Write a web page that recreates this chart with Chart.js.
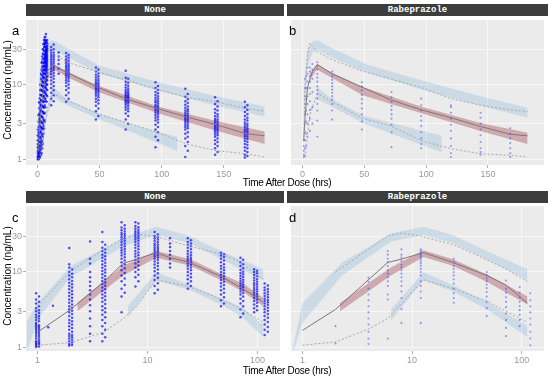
<!DOCTYPE html>
<html>
<head>
<meta charset="utf-8">
<script src="https://cdn.jsdelivr.net/npm/chart.js@4/dist/chart.umd.min.js"></script>
<style>
  html, body { margin:0; padding:0; background:#fff; }
  #wrap { position:relative; width:550px; height:379px; overflow:hidden; font-family:"Liberation Sans", Arial, sans-serif; }
  canvas { position:absolute; }
  .strip { position:absolute; height:12px; background:#3d3d3d; color:#fff; font-family:"Liberation Mono", monospace; font-weight:bold; font-size:9px; line-height:12px; text-align:center; }
  .letter { position:absolute; font-size:13px; color:#000; line-height:13px; z-index:5; }
  .xtitle { position:absolute; left:287px; transform:translateX(-50%); font-size:10px; letter-spacing:-0.3px; color:#000; white-space:nowrap; line-height:10px; z-index:5; }
  .ytitle { position:absolute; left:8px; transform:translate(-50%,-50%) rotate(-90deg); font-size:10px; color:#000; white-space:nowrap; line-height:10px; z-index:5; }
</style>
</head>
<body>
<div id="wrap">
  <div class="strip" id="s0" style="left:26px;top:4px;width:258px;"></div>
  <div class="strip" id="s1" style="left:287px;top:4px;width:261px;"></div>
  <div class="strip" id="s2" style="left:26px;top:191px;width:258px;"></div>
  <div class="strip" id="s3" style="left:287px;top:191px;width:261px;"></div>
  <canvas id="cA" width="284" height="167" style="left:0;top:16px;width:284px;height:167px;"></canvas>
  <canvas id="cB" width="261" height="167" style="left:287px;top:16px;width:261px;height:167px;"></canvas>
  <canvas id="cC" width="284" height="167" style="left:0;top:202px;width:284px;height:167px;"></canvas>
  <canvas id="cD" width="261" height="167" style="left:287px;top:202px;width:261px;height:167px;"></canvas>
  <div class="letter" id="lA" style="left:12px;top:24px;"></div>
  <div class="letter" id="lB" style="left:289px;top:24px;"></div>
  <div class="letter" id="lC" style="left:12px;top:211px;"></div>
  <div class="letter" id="lD" style="left:289px;top:211px;"></div>
  <div class="xtitle" id="xt1" style="top:178px;"></div>
  <div class="xtitle" id="xt2" style="top:366px;"></div>
  <div class="ytitle" id="yt1" style="top:90px;"></div>
  <div class="ytitle" id="yt2" style="top:276px;"></div>
</div>
<script>
// ---------- text ----------
const stripTitles = ['None', 'Rabeprazole', 'None', 'Rabeprazole'];
const panelLetters = ['a', 'b', 'c', 'd'];
const xAxisTitle = 'Time After Dose (hrs)';
const yAxisTitle = 'Concentration (ng/mL)';

// ---------- ticks ----------
const yTicks = [1, 3, 10, 30];
const xTicksLinear = [0, 50, 100, 150];
const xTicksLog = [1, 10, 100];

// ---------- panel a (linear time) ----------
const obsA = [
 [0.25,[1.0,1.05,1.1,1.2,1.3,1.45,1.6,1.8,2.1,2.5]],
 [0.75,[1.0,1.08,1.15,1.25,1.4,1.55,1.75,2.0,2.3,2.7,3.2,3.9]],
 [1.25,[1.02,1.1,1.2,1.35,1.5,1.7,1.9,2.2,2.5,2.9,3.4,4.0,4.8,5.8]],
 [1.75,[1.05,1.15,1.3,1.5,1.7,2.0,2.3,2.7,3.1,3.6,4.2,4.9,5.7,6.6]],
 [2.25,[1.1,1.25,1.45,1.7,2.0,2.4,2.8,3.3,3.9,4.5,5.3,6.2,7.3,8.5,10]],
 [2.75,[1.15,1.35,1.6,1.9,2.3,2.7,3.2,3.8,4.5,5.3,6.2,7.3,8.6,10,12,14]],
 [3.25,[1.2,1.5,1.8,2.2,2.6,3.1,3.7,4.4,5.2,6.1,7.2,8.4,9.8,11.5,13.5,16,19.7]],
 [3.75,[1.4,1.7,2.1,2.6,3.1,3.7,4.4,5.2,6.1,7.1,8.3,9.6,11,13,15,17.5,20.5,24]],
 [4.25,[1.6,2,2.5,3,3.6,4.3,5.1,6,7,8.2,9.5,11,12.7,14.6,16.8,19.3,22,26,30]],
 [4.75,[2.2,2.8,3.4,4.1,4.9,5.8,6.8,7.9,9.1,10.5,12,13.7,15.6,17.7,20,23,26,30,35]],
 [5.25,[2.6,3.3,4.1,5,6,7.1,8.3,9.6,11,12.5,14.2,16,18,20.2,22.6,25.3,28.3,32,36,40]],
 [5.75,[3.2,4.2,5.3,6.5,7.8,9.2,10.7,12.3,14,15.8,17.7,19.7,21.8,24,26.5,29,32,35,39,43]],
 [6.25,[5,6.5,8,9.5,11,12.5,14,15.5,17,18.5,20,21.5,23,24.5,26,28,30,32,34,37,40,44]],
 [6.75,[6,7.5,9,10.5,12,13.5,15,16.5,18,19.5,21,22.5,24,25.5,27,28.5,30,32,34,36,39,48]],
 [7.25,[5.9,7.2,8.6,10,11.4,12.8,14.2,15.6,17,18.4,19.8,21.2,22.6,24,25.5,27,29,31,33,35.5,38]],
 [7.75,[7,8.5,10,11.5,13,14.5,16,17.5,19,20.5,22,23.5,25,27,29,31,33,36,40]],
 [11,[5.3,6.5,7.8,9,10.2,11.4,12.6,13.8,15,16.2,17.4,18.6,19.8,21,22.3,23.7,25.2,27,29,32]],
 [13,[6,7.2,8.4,9.6,10.8,12,13.2,14.4,15.6,16.8,18,19.2,20.5,22,23.5,25,27,30,34.6]],
 [17,[14,16.5,19,21.5,24,27]],
 [23,[5.9,7.2,8.5,9.6,10.6,11.5,12.4,13.3,14.2,15.1,16,17,18,19.2,20.5,22,24,26.6]],
 [25,[6.5,7.8,9,10.1,11.1,12,12.9,13.8,14.7,15.6,16.5,17.5,18.6,19.8,21.2,23,25]],
 [47,[3.4,4.4,5.2,5.9,6.5,7.1,7.6,8.1,8.6,9.1,9.6,10.2,10.8,11.6,12.5,13.6,15,17]],
 [49,[3.8,4.8,5.6,6.2,6.8,7.3,7.8,8.3,8.8,9.3,9.9,10.5,11.2,12,13,14.2,16]],
 [71,[2.5,3.4,4.1,4.6,5,5.4,5.7,6,6.3,6.6,6.9,7.2,7.6,8,8.5,9.2,10,11,12.4,15.4]],
 [73,[3,3.8,4.4,4.8,5.2,5.6,5.9,6.2,6.5,6.8,7.1,7.4,7.8,8.3,8.9,9.7,10.6,12]],
 [95,[1.45,2,2.5,2.9,3.3,3.6,3.9,4.2,4.5,4.8,5.1,5.4,5.8,6.2,6.7,7.3,8,9,10.8]],
 [97,[1.8,2.3,2.7,3.1,3.4,3.7,4,4.3,4.6,4.9,5.2,5.6,6,6.5,7,7.7,8.5,9.6]],
 [119,[1.07,1.5,1.9,2.2,2.5,2.7,2.9,3.1,3.3,3.5,3.7,3.9,4.2,4.5,4.9,5.4,6,6.9,8.8]],
 [121,[1.3,1.7,2,2.3,2.6,2.8,3,3.2,3.4,3.6,3.8,4.1,4.4,4.7,5.1,5.7,6.4,7.5]],
 [143,[1.15,1.4,1.6,1.8,2,2.15,2.3,2.45,2.6,2.75,2.9,3.1,3.3,3.5,3.8,4.2,4.7,5.5,6.8]],
 [145,[1.25,1.5,1.7,1.9,2.1,2.25,2.4,2.55,2.7,2.85,3,3.2,3.4,3.7,4,4.5,5.1,6]],
 [167,[1.05,1.15,1.3,1.45,1.6,1.75,1.9,2.05,2.2,2.35,2.5,2.7,2.9,3.1,3.4,3.8,4.3,5,5.9]],
 [169,[1.1,1.25,1.4,1.55,1.7,1.85,2,2.15,2.3,2.45,2.6,2.8,3,3.3,3.6,4,4.6,5.3]]
];
// [time, low, high]
const upperPiA = [[1,4,10],[4,17,28],[8,27,37],[12,30,40],[24,23.5,31],[50,14,18],[96,8.4,11],[144,5.2,7],[183,3.75,5.1]];
const medPiA = [[7,11,13],[13,16,18.7],[24,12.7,15],[49,8,9.7],[97,4.15,5.1],[144,2.4,3.25],[183,1.6,2.35]];
const lowerPiA = [[4.4,2.3,2.8],[12.4,6.8,9.5],[24,5.3,6.3],[50,3.4,4.1],[76,2.3,2.9],[112.8,1.28,2.0]];
const obsMedA = [[0.5,1.3],[1,1.8],[2,3],[3,4.5],[4,7],[6,12],[8,15],[12,18.7],[24,14.5],[48,9.3],[72,6.4],[96,4.8],[120,3.7],[144,2.9],[168,2.2],[183,2.06]];
const obsP95A = [[0.5,2.5],[1,4.5],[2,8],[4,20],[6,33],[8,36],[12,27],[24,20],[48,15],[72,11.5],[96,8.7],[120,6.8],[144,5.9],[168,4.8],[183,4.4]];
const obsP05A = [[0.5,1],[1,1],[2,1.1],[4,1.5],[6,3],[8,5],[12,7.6],[24,6.2],[48,4.1],[72,3.1],[96,2.3],[120,1.6],[144,1.3],[168,1.18],[183,1.07]];

// ---------- panel b (linear time) ----------
const obsB = [
 [1,[1.07,1.15,1.3,1.5,1.8]],
 [2,[1.1,1.4,1.8,2.3,3,4,5.5,7,9,12]],
 [3,[1.5,2.2,3.2,4.5,6.5,9,13]],
 [4,[2,3,4,5.5,7,9,11,14,17]],
 [6,[2.4,3.5,4.6,6,7.5,9,11,13,15,17]],
 [8,[3,5,8,12,16,19]],
 [12,[2,3.3,4.5,5.5,6.5,7.5,8.5,9.5,11,12.5,14,16,18,20]],
 [24,[3.4,4.5,5.5,6.3,7,7.8,8.6,9.5,10.5,11.7,13,15]],
 [48,[2.5,3.2,4,4.8,5.6,6.4,7.3,8.4,9.5,10.8]],
 [72,[1.45,2.3,2.9,3.5,4,4.6,5.2,5.9,6.8,8]],
 [96,[1.4,1.6,1.9,2.3,2.8,3.3,3.8,4.5,5.3,6.5]],
 [120,[1.07,1.2,1.5,1.9,2.4,2.9,3.5,4.2,5,5.3]],
 [144,[1.15,1.25,1.4,1.7,2.1,2.5,3,3.6,4.2]],
 [168,[1.07,1.2,1.4,1.65,1.9,2.2,2.6]]
];
const upperPiB = [[1,3.5,9],[4,17,30],[8,27,38],[12,29,40],[24,23,31],[52,14.6,18.7],[96,8.6,11.5],[144,5.2,7],[182,3.6,4.9]];
const medPiB = [[5.8,11.5,14],[11.6,16,18.7],[24,12.3,14.5],[48.6,7.2,9.3],[96.2,4.15,5.07],[143.8,2.39,3.07],[182,1.6,2.27]];
const lowerPiB = [[11.6,6.5,9.3],[23.5,5.1,6.5],[50,3.0,3.8],[112.6,1.24,2.06]];
const obsMedB = [[1,1.8],[2,3.6],[4,9],[6,12],[8,15],[12,18.7],[24,14],[48,9.3],[72,6.2],[96,4.6],[120,3.6],[144,2.75],[168,2.16],[182,2.06]];
const obsP95B = [[1,2],[2,8],[4,25],[6,36],[12,27.4],[24,21.7],[48,15.3],[72,11.9],[96,9.2],[120,6.5],[144,5.3],[168,4.6],[182,4.37]];
const obsP05B = [[1,1.07],[2,1.1],[4,2],[6,4],[12,7.6],[24,5.9],[48,3.57],[72,2.77],[96,1.77],[120,1.38],[144,1.18],[168,1.13],[182,1.07]];

// ---------- panel c (log time) ----------
const obsC = [
 [0.97,[1.0,1.05,1.1,1.15,1.2,1.3,1.4,1.5,1.6,1.7,1.8,1.9,2.0,2.1,2.3,2.5,2.7,3.0,3.3,3.8,4.3,5.2]],
 [1.03,[1.02,1.08,1.12,1.18,1.25,1.35,1.45,1.55,1.65,1.75,1.85,1.95,2.2,2.4,2.6,2.85,3.1,3.5,4.0,4.7]],
 [1.25,[1.84]],[1.38,[3.56]],
 [1.94,[1.05,1.1,1.2,1.3,1.4,1.5,1.7,1.9,2.1,2.3,2.6,2.9,3.2,3.5,3.9,4.3,4.8,5.3,5.9,6.5,7.2,8,9,10,11.5,12.7,20.9]],
 [2.06,[1.07,1.15,1.25,1.35,1.45,1.6,1.8,2.0,2.2,2.45,2.75,3.05,3.35,3.7,4.1,4.55,5.05,5.6,6.2,6.85,7.6,8.5,9.5,10.8]],
 [3,[1.2,1.5,1.9,2.4,3,3.6,4.3,5,5.7,6.5,7.4,8.5,10,13,15,25.5]],
 [3.88,[1.2,1.5,1.9,2.3,2.7,3.1,3.5,4,4.5,5,5.6,6.2,6.9,7.6,8.4,9.3,10.3,11.4,12.6,14,15.5,17,19,21,25,34]],
 [4.12,[1.35,1.7,2.1,2.5,2.9,3.3,3.75,4.25,4.75,5.3,5.9,6.55,7.25,8,8.85,9.8,10.8,12,13.3,14.7,16.2,18,20,23]],
 [5.8,[2.9,4.7,6,7.5,9,10.5,12,13.5,15,16.5,18,19.5,21,23,25,27,29,31,33,36,39,46]],
 [6.2,[5.3,6.7,8.2,9.7,11.2,12.7,14.2,15.7,17.2,18.7,20.2,22,24,26,28,30,32,34.5,37.5,42]],
 [7.75,[6.4,8.5,10,11.5,13,14.5,16,17.5,19,21,23,25,27,29,31,33,35,38,41,46]],
 [8.25,[7.5,9.2,10.7,12.2,13.7,15.2,16.7,18.2,20,22,24,26,28,30,32,34,36.5,39.5,44]],
 [11.6,[5.2,6.5,7.8,9,10.2,11.4,12.6,13.8,15,16.2,17.4,18.6,19.8,21,22.5,24,26,28,30,34]],
 [12.4,[5.8,7.1,8.4,9.6,10.8,12,13.2,14.4,15.6,16.8,18,19.2,20.4,21.7,23.2,25,27,29,31.5]],
 [16,[11.5,13,15,17,19,21.5,24,28]],
 [23.2,[6,7,8,9,10,11,12,13,14,15,16,17.5,19,21,23,25,28]],
 [24.8,[6.5,7.5,8.5,9.5,10.5,11.5,12.5,13.5,14.5,15.5,16.7,18.2,20,22,24,26.5]],
 [46.5,[3.5,4.2,5,5.7,6.4,7.1,7.8,8.5,9.2,10,11,12,13.5,15,16.5,18]],
 [49.5,[3.8,4.6,5.3,6,6.7,7.4,8.1,8.8,9.6,10.5,11.5,12.7,14.2,15.8,17.2]],
 [70,[2.5,3.2,3.8,4.4,5,5.5,6,6.5,7,7.6,8.2,8.9,9.7,10.6,12,13.5,15.5]],
 [74,[2.8,3.5,4.1,4.7,5.25,5.75,6.25,6.75,7.3,7.9,8.55,9.3,10.1,11.2,12.7,14.5]],
 [93,[2.9,3.3,3.7,4.1,4.5,4.9,5.3,5.7,6.1,6.6,7.1,7.7,8.4,9.2,10,10.9]],
 [99,[3.1,3.5,3.9,4.3,4.7,5.1,5.5,5.9,6.35,6.85,7.4,8,8.8,9.6,10.4]],
 [116,[1.45,1.7,2,2.3,2.6,2.9,3.2,3.5,3.8,4.1,4.4,4.8,5.2,5.7,6.2,7]],
 [124,[1.6,1.85,2.15,2.45,2.75,3.05,3.35,3.65,3.95,4.25,4.6,5,5.45,5.95,6.6]]
];
const upperPiC = [[0.8,0.85,2.2],[1,2.35,3.86],[2,8.5,12],[6,22,28],[12,31,40],[24,24.3,30],[50,14.1,18.2],[113,7.74,10.9]];
const medPiC = [[2.3,3.0,3.9],[6,9,12.1],[12,15.5,19],[24.5,12.1,14.8],[50,7.4,9],[73.5,5.5,7.0],[113,3.5,4.5]];
const lowerPiC = [[6.6,2.5,3.5],[12,7.74,9.9],[24.5,5.7,6.7],[50,3.5,4.26],[73.5,2.47,3.33],[113,1.36,1.93]];
const obsMedC = [[1,1.58],[2,3.17],[3,5.2],[4,7.4],[6,13],[8,14.8],[12,18.1],[16,15.5],[24,13.4],[48,8.55],[72,6.05],[96,4.71],[113,3.93]];
const obsP95C = [[1,3.5],[2,10.4],[4,20],[6,28.2],[8,31.8],[12,29.7],[24,22],[48,17.2],[72,13.4],[96,9],[113,8.1]];
const obsP05C = [[1,1.06],[2,1.15],[4,1.58],[6,2.4],[8,3.5],[12,7.9],[24,6.35],[48,4.26],[72,3.17],[96,2.47],[113,2.13]];

// ---------- panel d (log time) ----------
const obsD = [
 [2,[1.12,1.9]],
 [4,[1.1,1.3,1.6,2,2.4,2.9,3.5,4.2,5,6,7.4,8.4]],
 [6,[1.3,4.3,5,6.5,7.5,8.5,9.5,10.5,12,13.5,15,17,19]],
 [8,[2.1,3.2,4.5,5.5,6.5,7.5,8.5,9.5,10.5,11.5,12.5,14,15.5,17,20]],
 [12,[2.1,4.5,5.5,6.5,7.5,9,10,11,12,13,14,15,16,17,18,19,20]],
 [24,[3.9,4.5,5.2,6,7,8,9,10,11,12,13.5,15]],
 [48,[2.6,3.3,4,4.7,5.4,6.1,6.8,7.5,8.2,9,10]],
 [72,[1.4,1.8,2.3,2.8,3.4,4,4.6,5.3,6,7.7]],
 [96,[1.9,2.3,2.7,3.1,3.5,4,4.6,5.3,6.3]],
 [120,[1.06,1.3,1.6,2,2.4,2.9,3.5,4.2,5.2]]
];
const upperPiD = [[0.82,0.85,1.0],[1,2.13,3.86],[2.3,9,13.4],[6.4,25.5,32.5],[12.7,31,40],[23.5,24.3,31],[48,14.8,19],[113,7.74,10.9]];
const medPiD = [[2.2,3.0,3.86],[6.4,9,11.5],[12.7,15.8,19.4],[23.5,12.1,14.8],[48,7.4,9.3],[113,3.7,4.7]];
const lowerPiD = [[6.4,2.24,3.17],[12.7,7.74,9.9],[23.5,5.5,6.7],[48,3.2,4.0],[113,1.36,1.93]];
const obsMedD = [[1,1.67],[2,3.17],[6,13.4],[8,14.8],[12.7,18.1],[23.5,13.4],[48,9],[72,6.7],[113,3.86]];
const obsP95D = [[2,10],[4,20],[6,30],[8,33],[12,30],[24,23],[48,14.5],[72,11],[96,8.5],[113,7.5]];
const obsP05D = [[1,1.06],[2,1.17],[4,1.74],[6,2.4],[12.7,7.9],[23.5,6.05],[48,4.1],[72,3.0],[113,2.13]];

// ---------- styles ----------
const BLUE_BAND = 'rgba(51,136,204,0.17)';
const RED_BAND = 'rgba(150,40,55,0.34)';
const POINT_DENSE = 'rgba(0,0,255,0.68)';
const POINT_SPARSE = 'rgba(40,40,255,0.45)';
const TICK_COL = '#999999';

document.getElementById('s0').textContent = stripTitles[0];
document.getElementById('s1').textContent = stripTitles[1];
document.getElementById('s2').textContent = stripTitles[2];
document.getElementById('s3').textContent = stripTitles[3];
['lA','lB','lC','lD'].forEach((id,i)=>document.getElementById(id).textContent = panelLetters[i]);
document.getElementById('xt1').textContent = xAxisTitle;
document.getElementById('xt2').textContent = xAxisTitle;
document.getElementById('yt1').textContent = yAxisTitle;
document.getElementById('yt2').textContent = yAxisTitle;

const bgPlugin = {
  id: 'panelBg',
  beforeDraw(chart) {
    const {ctx, chartArea: a} = chart;
    ctx.save();
    ctx.fillStyle = '#EBEBEB';
    ctx.fillRect(a.left, a.top, a.right - a.left, a.bottom - a.top);
    ctx.restore();
  }
};

function bandSets(tri, color) {
  return [
    { data: tri.map(r => ({x: r[0], y: r[2]})), showLine: true, borderWidth: 0, pointRadius: 0, fill: '+1', backgroundColor: color, order: 5, tension: 0 },
    { data: tri.map(r => ({x: r[0], y: r[1]})), showLine: true, borderWidth: 0, pointRadius: 0, fill: false, order: 5, tension: 0 }
  ];
}
function lineSet(pairs, color, dash, width) {
  return { data: pairs.map(p => ({x: p[0], y: p[1]})), showLine: true, borderColor: color, borderWidth: width, borderDash: dash, pointRadius: 0, fill: false, order: 1, tension: 0 };
}
function pointSet(obs, color, radius) {
  const pts = [];
  obs.forEach(([t, vs]) => vs.forEach(v => pts.push({x: t, y: v})));
  return { data: pts, showLine: false, pointRadius: radius, pointBorderWidth: 0, pointBackgroundColor: color, backgroundColor: color, borderColor: 'rgba(0,0,0,0)', order: 3 };
}

function makePanel(id, p) {
  const datasets = [
    ...bandSets(p.upper, BLUE_BAND),
    ...bandSets(p.lower, BLUE_BAND),
    ...bandSets(p.med, RED_BAND),
    pointSet(p.obs, p.ptColor, p.ptRadius),
    lineSet(p.p95, '#a8a8a8', [2, 2], 1),
    lineSet(p.p05, '#a8a8a8', [2, 2], 1),
    lineSet(p.median, '#7a7a7a', [], 1)
  ];
  const xTicks = p.logX ? xTicksLog : xTicksLinear;
  new Chart(document.getElementById(id), {
    type: 'scatter',
    data: { datasets },
    plugins: [bgPlugin],
    options: {
      animation: false,
      responsive: false,
      devicePixelRatio: 1,
      events: [],
      layout: { padding: 0 },
      plugins: { legend: { display: false }, tooltip: { enabled: false } },
      scales: {
        x: {
          type: p.logX ? 'logarithmic' : 'linear',
          min: p.xMin, max: p.xMax,
          afterBuildTicks: s => { s.ticks = xTicks.map(v => ({value: v})); },
          afterFit: s => { s.height = 18; s.paddingLeft = 0; s.paddingRight = 0; },
          border: { display: false },
          grid: { color: '#f7f7f7', lineWidth: 1, tickColor: '#b0b0b0', tickLength: 3, drawTicks: true },
          ticks: { color: TICK_COL, font: { family: 'Liberation Sans', size: 9 }, padding: 1, maxRotation: 0, autoSkip: false, callback: v => String(v) }
        },
        y: {
          type: 'logarithmic',
          min: p.yMin, max: p.yMax,
          afterBuildTicks: s => { s.ticks = yTicks.map(v => ({value: v})); },
          afterFit: s => { s.width = p.showY ? 26 : 0; s.paddingTop = 0; s.paddingBottom = 0; },
          border: { display: false },
          grid: { color: '#f7f7f7', lineWidth: 1, tickColor: '#b0b0b0', tickLength: 3, drawTicks: p.showY },
          ticks: { display: p.showY, color: TICK_COL, font: { family: 'Liberation Sans', size: 9 }, padding: 1, autoSkip: false, callback: v => String(v) }
        }
      }
    }
  });
}

makePanel('cA', { obs: obsA, upper: upperPiA, lower: lowerPiA, med: medPiA, median: obsMedA, p95: obsP95A, p05: obsP05A, logX: false, xMin: -9.3, xMax: 195.3, yMin: 0.835, yMax: 74, showY: true, ptColor: POINT_DENSE, ptRadius: 1.25 });
makePanel('cB', { obs: obsB, upper: upperPiB, lower: lowerPiB, med: medPiB, median: obsMedB, p95: obsP95B, p05: obsP05B, logX: false, xMin: -9.3, xMax: 195.3, yMin: 0.835, yMax: 74, showY: false, ptColor: POINT_SPARSE, ptRadius: 1.05 });
makePanel('cC', { obs: obsC, upper: upperPiC, lower: lowerPiC, med: medPiC, median: obsMedC, p95: obsP95C, p05: obsP05C, logX: true, xMin: 0.785, xMax: 160, yMin: 0.887, yMax: 75.5, showY: true, ptColor: POINT_DENSE, ptRadius: 1.25 });
makePanel('cD', { obs: obsD, upper: upperPiD, lower: lowerPiD, med: medPiD, median: obsMedD, p95: obsP95D, p05: obsP05D, logX: true, xMin: 0.785, xMax: 160, yMin: 0.887, yMax: 75.5, showY: false, ptColor: POINT_SPARSE, ptRadius: 1.05 });
</script>
</body>
</html>
